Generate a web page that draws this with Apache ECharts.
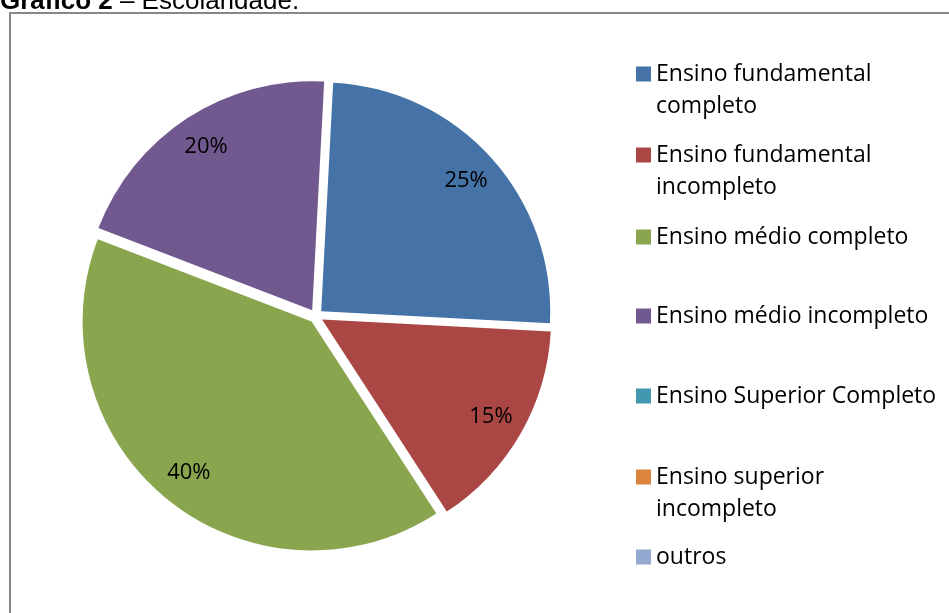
<!DOCTYPE html>
<html>
<head>
<meta charset="utf-8">
<script src="https://cdn.jsdelivr.net/npm/echarts@6/dist/echarts.min.js"></script>
<style>
  html, body { margin: 0; padding: 0; background: #fff; }
  #chart { width: 949px; height: 613px; }
</style>
</head>
<body>
<div id="chart"></div>
<script>
// escolaridade (%)
const categories = [
  "Ensino fundamental\ncompleto",
  "Ensino fundamental\nincompleto",
  "Ensino médio completo",
  "Ensino médio incompleto",
  "Ensino Superior Completo",
  "Ensino superior\nincompleto",
  "outros"
];
const values = [25, 15, 40, 20, 0, 0, 0];
const colors = ["#4572A7", "#AA4643", "#89A54E", "#71588F", "#4198AF", "#DB843D", "#93A9CF"];

// legend marker centres (layout only)
const legendY = [74, 155, 237, 316, 396, 477, 557];
const FONT = "Open Sans";

const pieData = categories.map((name, i) => ({
  name: name,
  value: values[i],
  selected: true,
  itemStyle: { color: colors[i] }
}));

// two-line names get an empty first line so the marker sits on the first text line
const legends = categories.map((name, i) => {
  const twoLine = name.indexOf("\n") >= 0;
  return {
    data: [name],
    orient: "vertical",
    left: 636,
    top: legendY[i] - (twoLine ? 48 : 16),
    padding: 0,
    icon: "rect",
    itemWidth: 15,
    itemHeight: 15,
    itemGap: 0,
    selectedMode: false,
    formatter: n => (twoLine ? "\n" + n : n),
    textStyle: {
      fontFamily: FONT,
      fontSize: 23,
      color: "#000",
      lineHeight: 32
    }
  };
});

let chart = echarts.init(document.getElementById("chart"));
chart.setOption({
  animation: false,
  title: {
    text: "{b|Gráfico 2} – Escolaridade.",
    left: 0,
    top: -11,
    padding: 0,
    textStyle: {
      fontFamily: "Liberation Sans",
      fontSize: 26,
      fontWeight: "normal",
      color: "#000",
      rich: {
        b: { fontFamily: "Liberation Sans", fontSize: 26, fontWeight: "bold", color: "#000" }
      }
    }
  },
  graphic: [
    {
      type: "rect",
      z: -1,
      shape: { x: 10, y: 13, width: 960, height: 620 },
      style: { fill: "none", stroke: "#878787", lineWidth: 2 }
    }
  ],
  legend: legends,
  series: [
    {
      type: "pie",
      center: [316, 316],
      radius: 229,
      startAngle: 87,
      selectedMode: "multiple",
      selectedOffset: 7,
      silent: true,
      itemStyle: { borderWidth: 0 },
      label: { show: false },
      labelLine: { show: false },
      emphasis: { disabled: true, scale: false },
      data: pieData
    },
    {
      // transparent ring only used to place the percentage labels further out
      type: "pie",
      center: [316, 316],
      radius: [155, 229],
      startAngle: 87,
      selectedMode: "multiple",
      selectedOffset: 7,
      silent: true,
      itemStyle: { color: "transparent", borderWidth: 0 },
      label: {
        show: true,
        position: "inside",
        fontFamily: FONT,
        fontSize: 22,
        color: "#000",
        formatter: p => (p.value ? p.percent + "%" : "")
      },
      labelLine: { show: false },
      emphasis: { disabled: true, scale: false },
      data: categories.map((name, i) => ({ name: name, value: values[i], selected: true }))
    }
  ]
});
</script>
</body>
</html>
